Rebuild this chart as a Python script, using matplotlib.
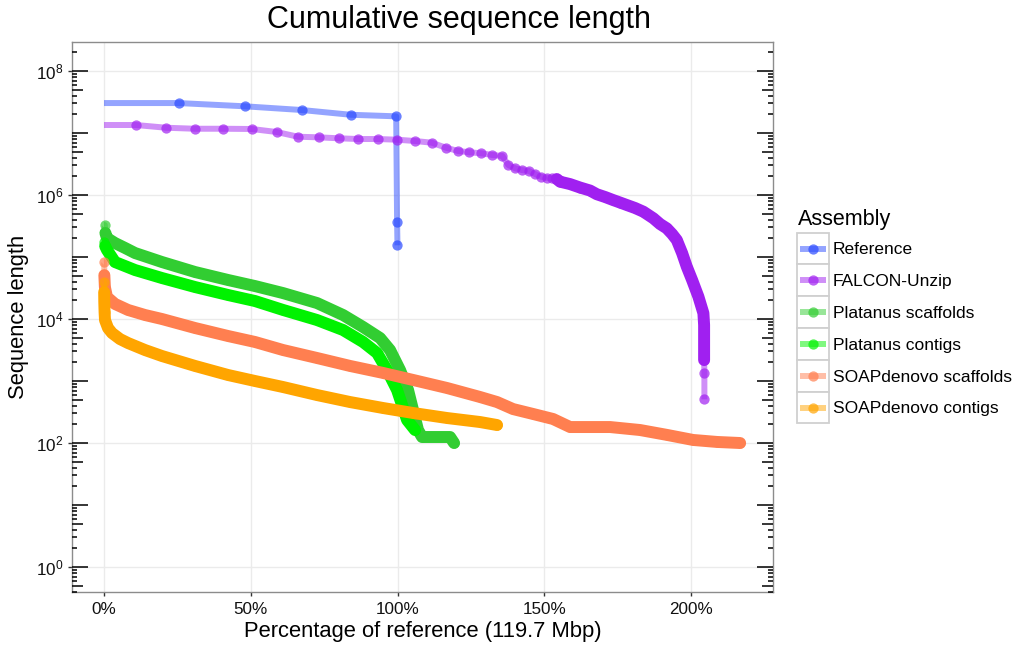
import numpy as np
import matplotlib
matplotlib.use("Agg")
import matplotlib.pyplot as plt
import matplotlib.transforms as mtransforms
from matplotlib.patches import Rectangle
from matplotlib.lines import Line2D

plt.rcParams['font.family'] = ['Liberation Sans', 'DejaVu Sans']
plt.rcParams['mathtext.fontset'] = 'custom'
plt.rcParams['mathtext.rm'] = 'Liberation Sans'
plt.rcParams['mathtext.it'] = 'Liberation Sans:italic'

# ---------------- data ----------------
REF_TOTAL_MBP = 119.7
series_names = ["Reference", "FALCON-Unzip", "Platanus scaffolds",
                "Platanus contigs", "SOAPdenovo scaffolds", "SOAPdenovo contigs"]
series_colors = ["#2B4BFF", "#A020F0", "#32CD32", "#00F200", "#FF7F50", "#FFA500"]

ref_lengths = [30427671, 26975502, 23459830, 19698289, 18585056, 366924, 154478]

falcon_pct = [10.90, 21.12, 30.90, 40.55, 50.32, 58.84, 66.10, 73.15, 79.97, 86.64,
              93.36, 99.83, 105.96, 111.65, 116.52, 120.61, 124.46, 128.55, 132.30, 135.71,
              137.75, 140.03, 142.32, 144.80, 146.85, 148.89, 150.83, 152.54, 154.24, 155.37,
              158.77, 162.18, 165.59, 167.87, 170.70, 173.42, 175.81, 178.09, 180.92, 183.75,
              187.15, 189.44, 191.72, 193.53, 195.13, 196.93, 198.53, 200.34, 202.49, 204.19,
              204.43, 204.43, 204.43, 204.43, 204.53, 204.53]
falcon_len = [1.346e7, 1.217e7, 1.172e7, 1.172e7, 1.161e7, 1.038e7, 8.71e6, 8.52e6, 8.22e6, 8.0e6,
              8.0e6, 7.80e6, 7.43e6, 6.98e6, 5.79e6, 5.13e6, 4.89e6, 4.71e6, 4.42e6, 4.26e6,
              3.05e6, 2.70e6, 2.53e6, 2.44e6, 2.18e6, 1.97e6, 1.90e6, 1.85e6, 1.81e6, 1.64e6,
              1.50e6, 1.32e6, 1.18e6, 1.03e6, 9.29e5, 8.30e5, 7.56e5, 6.90e5, 6.17e5, 5.38e5,
              4.21e5, 3.40e5, 2.90e5, 2.35e5, 1.88e5, 1.16e5, 6.98e4, 4.26e4, 2.29e4, 1.24e4,
              8.0e3, 4.58e3, 3.16e3, 2.18e3, 1.35e3, 507]

plat_scaf_pct = [0.27, 0.48, 1.02, 3.75, 7.16, 10.56, 19.76, 31.01, 42.25, 51.45, 60.99, 72.57,
                 81.43, 88.25, 94.04, 97.44, 100.85, 103.58, 105.28, 106.98, 108.35, 117.89, 119.25]
plat_scaf_len = [3.28e5, 2.44e5, 2.02e5, 1.68e5, 1.40e5, 1.16e5, 8.30e4, 5.73e4, 4.26e4, 3.40e4,
                 2.62e4, 1.81e4, 1.16e4, 7.43e3, 4.94e3, 3.16e3, 1.50e3, 716, 340, 162, 125, 125, 100]

plat_ctg_pct = [0.15, 0.4, 1.02, 3.75, 10.56, 19.76, 31.01, 42.25, 51.45, 60.99, 72.57, 81.43,
                88.25, 93.02, 96.42, 99.83, 103.24, 105.96]
plat_ctg_len = [1.75e5, 1.5e5, 1.30e5, 8.30e4, 6.17e4, 4.58e4, 3.28e4, 2.44e4, 1.95e4, 1.40e4,
                9.63e3, 6.65e3, 4.26e3, 2.83e3, 1.50e3, 716, 235, 162]

soap_scaf_pct = [0.07, 0.12, 0.3, 1.02, 3.75, 8.18, 13.97, 19.76, 31.01, 42.25, 51.45, 60.99,
                 72.57, 83.82, 95.06, 105.28, 116.87, 128.11, 133.90, 139.35, 146.17, 152.98,
                 158.77, 172.40, 182.62, 191.82, 200.68, 208.86, 216.70]
soap_scaf_len = [8.3e4, 5.1e4, 3.28e4, 2.26e4, 1.75e4, 1.40e4, 1.16e4, 1.0e4, 7.16e3, 5.32e3,
                 4.26e3, 3.16e3, 2.35e3, 1.75e3, 1.35e3, 1.04e3, 771, 552, 458, 353, 294, 244,
                 181, 181, 162, 135, 112, 104, 100]

soap_ctg_pct = [0.03, 0.06, 0.1, 0.2, 0.34, 1.36, 2.73, 5.45, 8.18, 13.97, 19.76, 31.01, 42.25,
                51.45, 60.99, 72.57, 83.82, 95.06, 105.28, 116.87, 128.11, 133.90]
soap_ctg_len = [3.95e4, 2.72e4, 1.88e4, 1.29e4, 9.63e3, 7.16e3, 5.94e3, 4.75e3, 4.10e3, 3.16e3,
                2.53e3, 1.75e3, 1.25e3, 1.0e3, 800, 594, 458, 367, 305, 253, 218, 195]

x_ticks = [0, 50, 100, 150, 200]
x_tick_labels = ["0%", "50%", "100%", "150%", "200%"]
y_tick_exps = [0, 2, 4, 6, 8]

# -------------- assemble ---------------
ref_pct = np.cumsum(ref_lengths) / (REF_TOTAL_MBP * 1e6) * 100
series_pct = [ref_pct, falcon_pct, plat_scaf_pct, plat_ctg_pct, soap_scaf_pct, soap_ctg_pct]
series_len = [ref_lengths, falcon_len, plat_scaf_len, plat_ctg_len, soap_scaf_len, soap_ctg_len]
# index ranges where contigs are so dense that markers merge into a solid band
dense_ranges = [None, (28, 54), (1, None), (1, None), (1, None), (1, None)]

W, H = 1016, 647
fig = plt.figure(figsize=(W / 100, H / 100), dpi=100)
L, R, T, B = 72, 773, 42, 592
ax = fig.add_axes([L / W, 1 - B / H, (R - L) / W, (B - T) / H])

LINE_LW = 4.3
BAND_LW = 8.6
MS = 7.4

for i, (name, col, px, ln) in enumerate(zip(series_names, series_colors, series_pct, series_len)):
    px = np.asarray(px, float)
    ln = np.asarray(ln, float)
    z = 3 + i
    xl = np.concatenate([[0.0], px])
    yl = np.concatenate([[ln[0]], ln])
    ax.plot(xl, yl, color=col, lw=LINE_LW, alpha=0.5, solid_capstyle='butt',
            solid_joinstyle='round', zorder=z)
    dr = dense_ranges[i]
    if dr is not None:
        s = slice(dr[0], dr[1])
        ax.plot(px[s], ln[s], color=col, lw=BAND_LW, solid_capstyle='round',
                solid_joinstyle='round', zorder=z)
    ax.plot(px, ln, 'o', ms=MS, color=col, alpha=0.7, mec='none', zorder=z)

ax.set_yscale('log')
ax.set_ylim(10 ** -0.403, 10 ** 8.468)
ax.set_xlim(-10.9, 227.9)

ax.set_xticks(x_ticks)
ax.set_xticklabels(x_tick_labels)
ax.set_yticks([10.0 ** e for e in y_tick_exps])
ax.set_yticklabels([r'$\mathregular{10^{%d}}$' % e for e in y_tick_exps])
ax.yaxis.set_minor_locator(matplotlib.ticker.NullLocator())
ax.tick_params(axis='both', which='major', direction='out', length=3, width=1.0,
               color='#333333', labelsize=12.3, labelcolor='#111111')
ax.tick_params(axis='x', pad=4)
ax.tick_params(axis='y', pad=3)

ax.grid(True, which='major', color='#EBEBEB', lw=1.0, zorder=0)
ax.set_axisbelow(True)
for sp in ax.spines.values():
    sp.set_color('#8C8C8C')
    sp.set_linewidth(1.0)

# log ticks (annotation_logticks style) on left and right sides
trans = mtransforms.blended_transform_factory(ax.transAxes, ax.transData)
pw = R - L
lens = {1: 16.0 / pw, 5: 10.7 / pw}
short = 5.3 / pw
ylo, yhi = ax.get_ylim()
for k in range(-1, 9):
    for m in range(1, 10):
        v = m * 10.0 ** k
        if v < ylo or v > yhi:
            continue
        ll = lens.get(m, short)
        ax.plot([0, ll], [v, v], transform=trans, color='black', lw=1.1,
                solid_capstyle='butt', clip_on=False, zorder=20)
        ax.plot([1 - ll, 1], [v, v], transform=trans, color='black', lw=1.1,
                solid_capstyle='butt', clip_on=False, zorder=20)

ax.set_xlabel("Percentage of reference (119.7 Mbp)", fontsize=15.8, labelpad=3)
ax.set_ylabel("Sequence length", fontsize=15.8, labelpad=5)
fig.text(459 / W, 1 - 20 / H, "Cumulative sequence length", fontsize=22,
         ha='center', va='center')

# legend (ggplot style: boxed keys)
def fx(x):
    return x / W


def fy(y):
    return 1 - y / H


fig.text(fx(798), fy(219), "Assembly", fontsize=15.5, ha='left', va='center')
pitch = 31.8
for i, (name, col) in enumerate(zip(series_names, series_colors)):
    yc = 248.5 + i * pitch
    fig.patches.append(Rectangle((fx(797), fy(yc + pitch / 2)), fx(32), pitch / H,
                                 transform=fig.transFigure, facecolor='white',
                                 edgecolor='#D0D0D0', lw=1.3))
    fig.lines.append(Line2D([fx(800), fx(826)], [fy(yc), fy(yc)], transform=fig.transFigure,
                            color=col, lw=LINE_LW, alpha=0.5, solid_capstyle='butt'))
    fig.lines.append(Line2D([fx(813)], [fy(yc)], transform=fig.transFigure, marker='o',
                            ms=MS, color=col, alpha=0.7, mec='none', ls='none'))
    fig.text(fx(833), fy(yc + 1.5), name, fontsize=12.5, ha='left', va='center')

fig.savefig("out.png", dpi=100)
